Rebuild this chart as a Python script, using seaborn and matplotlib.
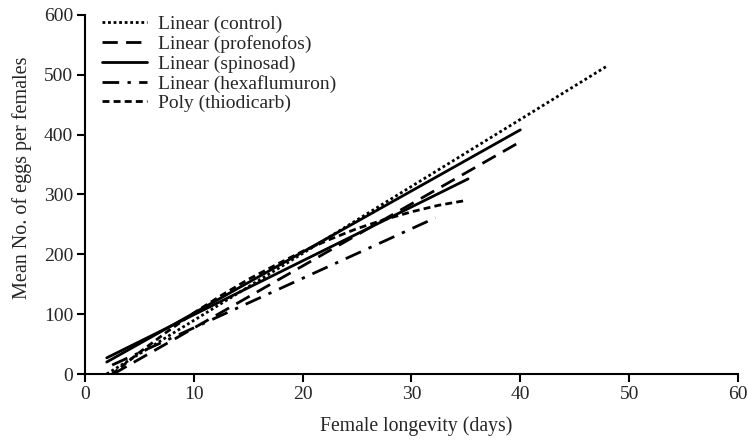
import matplotlib
matplotlib.use('Agg')
import matplotlib.pyplot as plt
import seaborn as sns
import pandas as pd

# endpoints / read-off points for each trend line (x = days, y = eggs)
control_x = [2.0, 48.0]
control_y = [0.0, 515.0]

profenofos_x = [2.6, 39.7]
profenofos_y = [0.0, 385.0]

spinosad_x = [2.0, 40.0]
spinosad_y = [20.0, 408.0]

hexaflumuron_x = [2.5, 32.2]
hexaflumuron_y = [15.0, 261.0]

thiodicarb_x = [2.5, 5.0, 7.5, 10.0, 12.5, 15.0, 17.5, 20.0, 22.5, 25.0, 27.5, 30.0, 32.5, 35.0]
thiodicarb_y = [0, 36, 70, 102, 131, 158, 182, 205, 225, 243, 258, 271, 282, 290]

# extra solid trend line, not in the legend
extra_x = [2.0, 35.2]
extra_y = [27.0, 326.0]

labels = ['Linear (control)', 'Linear (profenofos)', 'Linear (spinosad)',
          'Linear (hexaflumuron)', 'Poly (thiodicarb)']

sns.set_style('ticks')
plt.rcParams['font.family'] = ['Liberation Serif', 'DejaVu Serif']

fig, ax = plt.subplots(figsize=(7.48, 4.4), dpi=100)
fig.subplots_adjust(left=0.1136, right=0.9866, bottom=0.15, top=0.966)

series = [
    (control_x, control_y, labels[0], (0, (1, 1))),
    (profenofos_x, profenofos_y, labels[1], (0, (5.5, 3))),
    (spinosad_x, spinosad_y, labels[2], '-'),
    (hexaflumuron_x, hexaflumuron_y, labels[3], (0, (6, 3, 1.2, 3))),
    (thiodicarb_x, thiodicarb_y, labels[4], (0, (2.5, 1.5))),
]

for xs, ys, lab, ls in series:
    df = pd.DataFrame({'x': xs, 'y': ys})
    sns.lineplot(data=df, x='x', y='y', ax=ax, color='black', lw=2,
                 linestyle=ls, label=lab, sort=False)

df_extra = pd.DataFrame({'x': extra_x, 'y': extra_y})
sns.lineplot(data=df_extra, x='x', y='y', ax=ax, color='black', lw=2,
             linestyle='-', legend=False, sort=False)

ax.set_xlim(0, 60)
ax.set_ylim(0, 600)
ax.set_xticks(range(0, 61, 10))
ax.set_yticks(range(0, 601, 100))
ax.set_xlabel('Female longevity (days)', fontsize=14.2, labelpad=10, x=0.507)
ax.set_ylabel('Mean No. of eggs per females', fontsize=14.5, labelpad=8.5, y=0.546)
ax.tick_params(axis='both', labelsize=14, length=5.5, width=1.5, color='black', pad=3)
for s in ['left', 'bottom']:
    ax.spines[s].set_linewidth(1.5)
    ax.spines[s].set_color('black')
sns.despine(ax=ax)

ax.legend(loc='upper left', bbox_to_anchor=(0.0, 1.047), frameon=False,
          fontsize=14, handlelength=2.3, handletextpad=0.56, labelspacing=0.1)

fig.savefig('out.png', dpi=100)
